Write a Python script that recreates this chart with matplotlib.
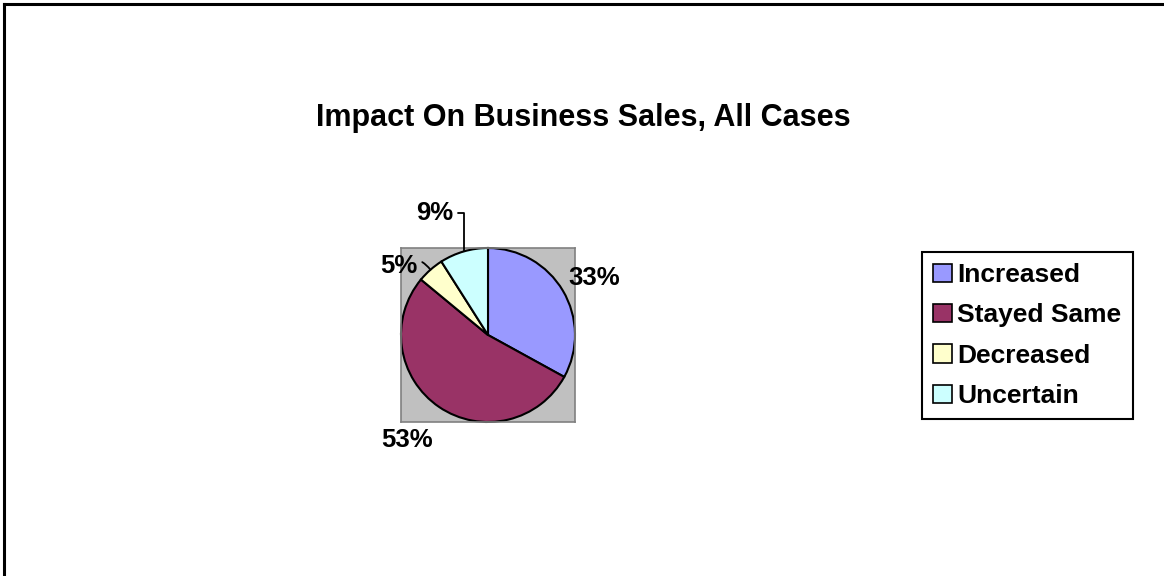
import numpy as np
import matplotlib
matplotlib.use("Agg")
import matplotlib.pyplot as plt
from matplotlib.lines import Line2D

plt.rcParams['font.family'] = ['Liberation Sans', 'DejaVu Sans']

categories = ["Increased", "Stayed Same", "Decreased", "Uncertain"]
values = [33, 53, 5, 9]
colors = ["#9999FF", "#993366", "#FFFFCC", "#CCFFFF"]
title = "Impact On Business Sales, All Cases"

W, H = 1164, 576
fig = plt.figure(figsize=(W / 100, H / 100), dpi=100)

# outer chart border (top and left visible)
fig.add_artist(Line2D([4 / W, 1], [1 - 4 / H, 1 - 4 / H], color="black", lw=2.2, transform=fig.transFigure))
fig.add_artist(Line2D([4 / W, 4 / W], [0, 1 - 4 / H], color="black", lw=2.2, transform=fig.transFigure))

fig.text(583 / W, 1 - 118 / H, title, ha="center", va="center", fontsize=22, fontweight="bold")

# pie axes: gray square plot area
cx, cy, r = 488, 335, 87
ax = fig.add_axes([(cx - r) / W, 1 - (cy + r) / H, 2 * r / W, 2 * r / H])
ax.set_facecolor("#C0C0C0")
for s in ax.spines.values():
    s.set_color("#808080")
    s.set_linewidth(1.2)
wedges, _ = ax.pie(values, colors=colors, startangle=90, counterclock=False,
                   radius=1, wedgeprops=dict(edgecolor="black", linewidth=1.5))
ax.set_xlim(-1, 1)
ax.set_ylim(-1, 1)
ax.set_aspect("equal")
ax.set_xticks([])
ax.set_yticks([])
ax.set_frame_on(True)

# labels
offsets = [(3.6, 9.4), (-4.3, -23.8), (-9.7, 2.9), (-7.9, 27.5)]
label_ha = ["left", "right", "right", "right"]
conns = [None, None, "arc3,rad=-0.5", "angle,angleA=0,angleB=90,rad=0"]
for w, v, off, ha, cs in zip(wedges, values, offsets, label_ha, conns):
    ang = np.deg2rad((w.theta1 + w.theta2) / 2)
    x, y = np.cos(ang), np.sin(ang)
    txt = f"{v}%"
    kw = dict(xy=(x, y), xytext=off, textcoords="offset points",
              ha=ha, va="center", fontsize=18.5, fontweight="bold", annotation_clip=False)
    if cs is not None:
        kw["arrowprops"] = dict(arrowstyle="-", color="black", lw=1.3, shrinkA=2, shrinkB=0,
                                connectionstyle=cs)
    ax.annotate(txt, **kw)

leg = fig.legend(wedges, categories, loc="upper left",
                 bbox_to_anchor=(922 / W, 1 - 252 / H), borderaxespad=0,
                 fancybox=False, edgecolor="black", framealpha=1,
                 prop=dict(size=19, weight="bold"), handlelength=0.7, handleheight=0.7,
                 handletextpad=0.22, labelspacing=0.62, borderpad=0.42)
leg.get_frame().set_linewidth(1.5)
for h in leg.legend_handles:
    h.set_linewidth(1.2)

fig.savefig("out.png", dpi=100, facecolor="white")
